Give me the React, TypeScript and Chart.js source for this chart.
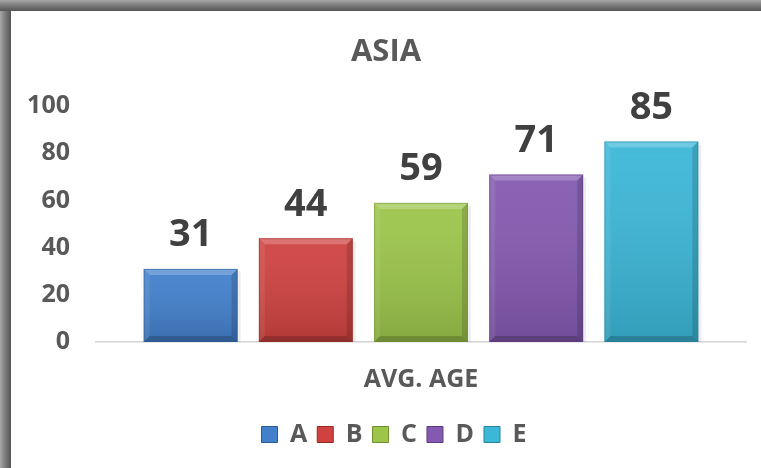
import React, { useEffect, useRef } from "react";
import { Chart, registerables } from "chart.js";

Chart.register(...registerables);

const categories = ["AVG. AGE"];
const seriesNames = ["A", "B", "C", "D", "E"];
const seriesValues = [31, 44, 59, 71, 85];
const seriesColors = ["#4280cc", "#cf4240", "#9cc54a", "#8459b1", "#3bb7d8"];
const seriesEdge = ["#2c5a94", "#922a28", "#6f8f30", "#5b3a80", "#26869f"];
const chartTitle = "ASIA";
const yMin = 0;
const yMax = 100;
const yStep = 20;

const FONT = "'Open Sans', Lato, 'DejaVu Sans', sans-serif";
const TEXT = "#595959";
const LABEL = "#404040";

const framePlugin = {
  id: "frame",
  beforeDraw(chart: any) {
    const ctx = chart.ctx;
    const w = chart.width;
    const h = chart.height;
    if (chart.legend && !chart.legend._shifted) {
      chart.legend.left += 8;
      chart.legend.right += 8;
      chart.legend._shifted = true;
    }
    ctx.save();
    ctx.fillStyle = "#ffffff";
    ctx.fillRect(0, 0, w, h);
    const t = 11;
    const gTop = ctx.createLinearGradient(0, 0, 0, t);
    gTop.addColorStop(0, "#a8a8a8");
    gTop.addColorStop(0.5, "#7a7a7a");
    gTop.addColorStop(1, "#555555");
    ctx.fillStyle = gTop;
    ctx.fillRect(0, 0, w, t);
    const gLeft = ctx.createLinearGradient(0, 0, t, 0);
    gLeft.addColorStop(0, "#a8a8a8");
    gLeft.addColorStop(0.5, "#7a7a7a");
    gLeft.addColorStop(1, "#555555");
    ctx.fillStyle = gLeft;
    ctx.fillRect(0, t, t, h - t);
    ctx.restore();
  },
};

function poly(ctx: any, pts: number[][], fill: string) {
  ctx.beginPath();
  ctx.moveTo(pts[0][0], pts[0][1]);
  for (let i = 1; i < pts.length; i++) ctx.lineTo(pts[i][0], pts[i][1]);
  ctx.closePath();
  ctx.fillStyle = fill;
  ctx.fill();
}

function barBox(bar: any) {
  const p = bar.getProps(["x", "y", "base", "width"], true);
  const l = p.x - p.width / 2;
  const r = p.x + p.width / 2;
  const t = Math.min(p.y, p.base);
  const b = Math.max(p.y, p.base);
  return { l, r, t, b, x: p.x };
}

const bevelPlugin = {
  id: "bevel",
  beforeDatasetsDraw(chart: any) {
    const ctx = chart.ctx;
    ctx.save();
    chart.data.datasets.forEach((_ds: any, di: number) => {
      chart.getDatasetMeta(di).data.forEach((bar: any) => {
        const { l, r, t, b } = barBox(bar);
        ctx.fillStyle = "rgba(0,0,0,0.07)";
        ctx.fillRect(r, t + 3, 3, b - t - 3);
        ctx.fillStyle = "rgba(0,0,0,0.04)";
        ctx.fillRect(l - 1, t - 1, r - l + 2, 1);
      });
    });
    ctx.restore();
  },
  afterDatasetsDraw(chart: any) {
    const ctx = chart.ctx;
    ctx.save();
    chart.data.datasets.forEach((ds: any, di: number) => {
      chart.getDatasetMeta(di).data.forEach((bar: any, i: number) => {
        const { l, r, t, b, x } = barBox(bar);
        const bv = 6;
        const g = ctx.createLinearGradient(0, t, 0, b);
        g.addColorStop(0, "rgba(255,255,255,0.06)");
        g.addColorStop(1, "rgba(0,0,0,0.14)");
        ctx.fillStyle = g;
        ctx.fillRect(l, t, r - l, b - t);
        poly(ctx, [[l, t], [r, t], [r - bv, t + bv], [l + bv, t + bv]], "rgba(255,255,255,0.22)");
        poly(ctx, [[l, t], [l + bv, t + bv], [l + bv, b - bv], [l, b]], "rgba(255,255,255,0.08)");
        poly(ctx, [[r, t], [r, b], [r - bv, b - bv], [r - bv, t + bv]], "rgba(0,0,0,0.14)");
        poly(ctx, [[l, b], [l + bv, b - bv], [r - bv, b - bv], [r, b]], "rgba(0,0,0,0.18)");
        ctx.strokeStyle = seriesEdge[di];
        ctx.globalAlpha = 0.5;
        ctx.lineWidth = 1;
        ctx.strokeRect(l + 0.5, t + 0.5, r - l - 1, b - t - 1);
        ctx.globalAlpha = 1;
        ctx.fillStyle = LABEL;
        ctx.font = `700 38px ${FONT}`;
        ctx.textAlign = "center";
        ctx.textBaseline = "alphabetic";
        ctx.fillText(String(ds.data[i]), x, t - 22.5);
      });
    });
    ctx.restore();
  },
};

export default function App() {
  const ref = useRef<HTMLCanvasElement | null>(null);
  useEffect(() => {
    if (!ref.current) return;
    const chart = new Chart(ref.current, {
      type: "bar",
      data: {
        labels: categories,
        datasets: seriesNames.map((name, i) => ({
          label: name,
          data: [seriesValues[i]],
          backgroundColor: seriesColors[i],
          borderWidth: 0,
          categoryPercentage: 0.886,
          barPercentage: 0.815,
        })),
      },
      options: {
        animation: false,
        responsive: false,
        events: [],
        layout: { padding: { left: 11, right: 0, top: 11, bottom: 11 } },
        scales: {
          x: {
            grid: { display: false, drawTicks: false },
            border: { display: true, color: "#d4d4d4", width: 1.5 },
            ticks: {
              color: TEXT,
              padding: 23,
              font: { family: FONT, size: 25, weight: "700" },
            },
            afterFit: (s: any) => {
              s.height = 70;
            },
          },
          y: {
            min: yMin,
            max: yMax,
            grid: { display: false, drawTicks: false },
            border: { display: false },
            ticks: {
              stepSize: yStep,
              color: TEXT,
              padding: 26,
              font: { family: FONT, size: 25, weight: "700" },
            },
            afterFit: (s: any) => {
              s.width = 85;
            },
          },
          yR: {
            position: "right",
            display: true,
            grid: { display: false, drawTicks: false },
            border: { display: false },
            ticks: { display: false },
            afterFit: (s: any) => {
              s.width = 15;
            },
          },
        },
        plugins: {
          tooltip: { enabled: false },
          title: {
            display: true,
            text: chartTitle,
            color: TEXT,
            font: { family: FONT, size: 31, weight: "700" },
            padding: { top: 23, bottom: 35 },
          },
          legend: {
            position: "bottom",
            labels: {
              boxWidth: 16,
              boxHeight: 16,
              padding: 10,
              color: TEXT,
              font: { family: FONT, size: 25, weight: "700" },
              generateLabels: (c: any) =>
                c.data.datasets.map((ds: any, i: number) => ({
                  text: ds.label,
                  fillStyle: seriesColors[i],
                  strokeStyle: seriesEdge[i],
                  lineWidth: 1,
                  hidden: false,
                  datasetIndex: i,
                  fontColor: TEXT,
                })),
            },
          },
        },
      } as any,
      plugins: [framePlugin, bevelPlugin],
    });
    return () => chart.destroy();
  }, []);
  return (
    <div style={{ position: "fixed", left: 0, top: 0, width: 761, height: 468 }}>
      <canvas ref={ref} width={761} height={468} style={{ display: "block" }} />
    </div>
  );
}
